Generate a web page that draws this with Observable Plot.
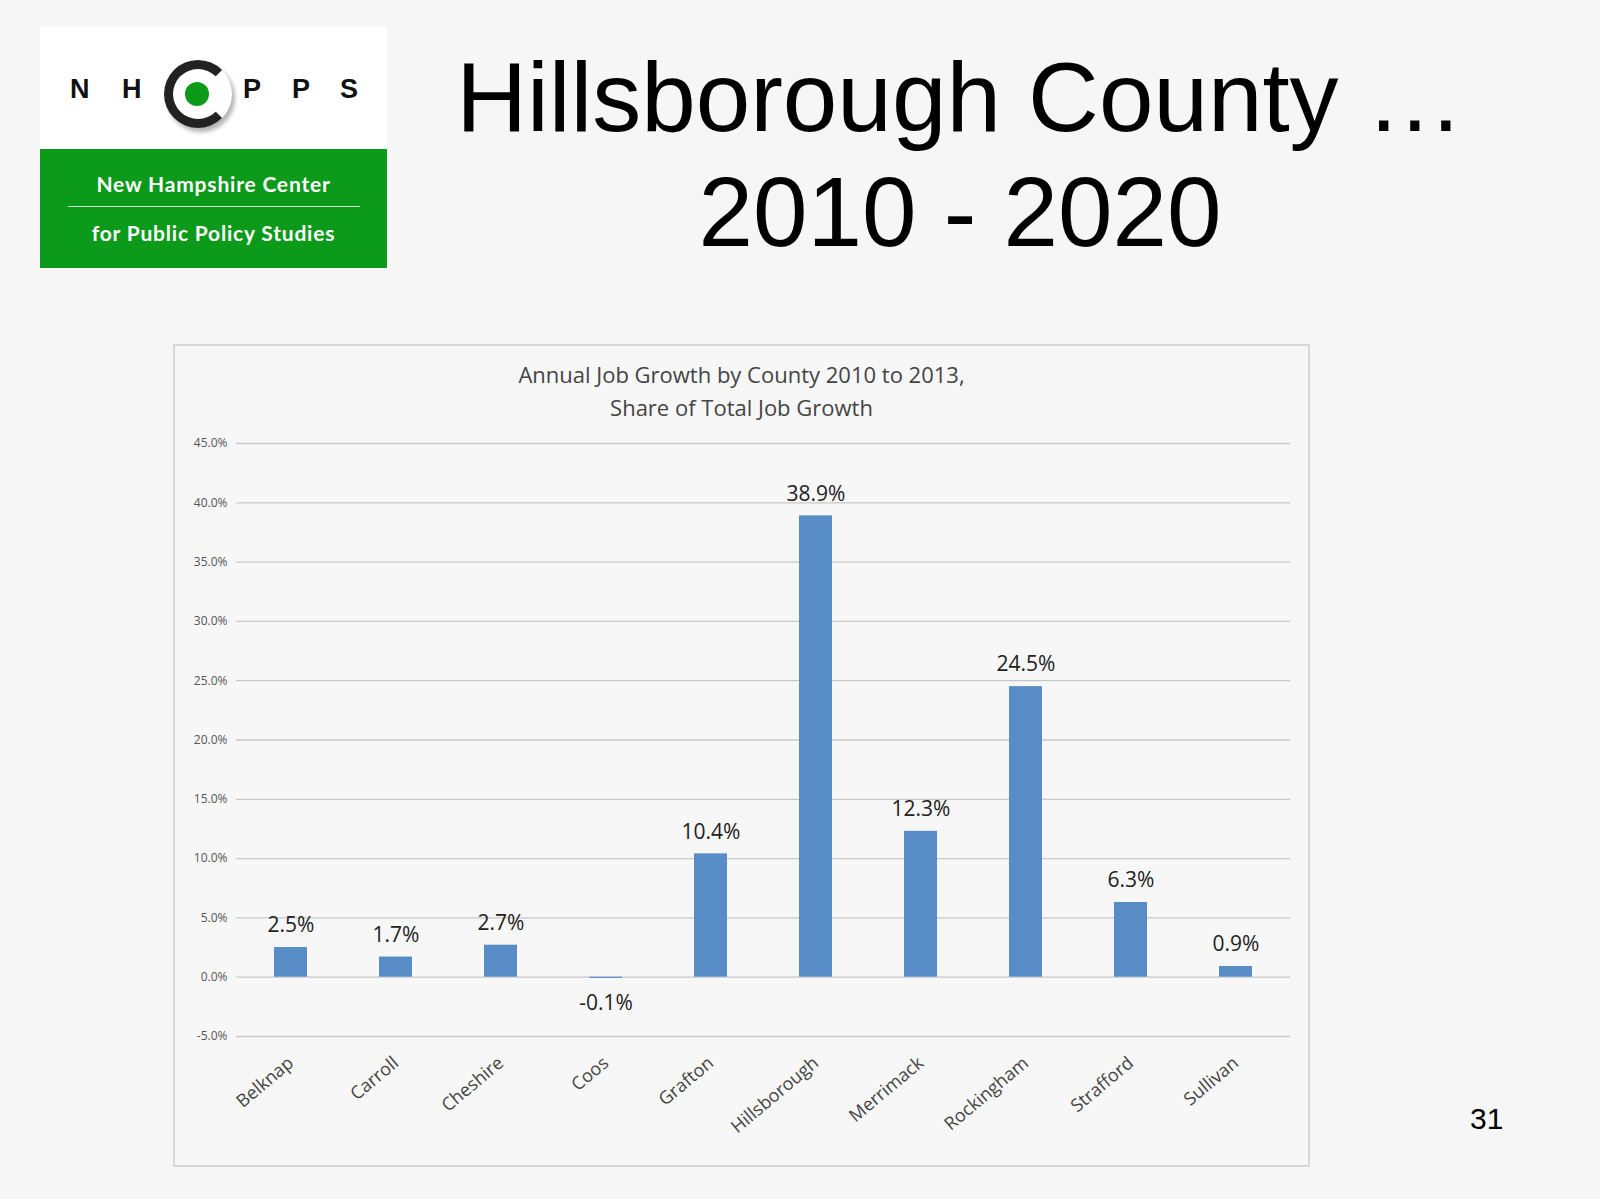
<!DOCTYPE html>
<html><head><meta charset="utf-8">
<script src="https://cdn.jsdelivr.net/npm/d3@7"></script>
<script src="https://cdn.jsdelivr.net/npm/@observablehq/plot@0.6"></script>
<style>
body{margin:0;background:#f6f6f6;width:1600px;height:1199px;position:relative;overflow:hidden;font-family:"Liberation Sans",Arial,sans-serif}
#logo{position:absolute;left:40px;top:26px;width:347px;height:242px;background:#fff}
#letters{position:absolute;left:0;top:48px;width:347px;font-family:"Liberation Sans",Arial;font-weight:bold;font-size:27px;color:#111}
#green{position:absolute;left:0;top:123px;width:347px;height:119px;background:#0b9a1a;color:#fff;font-family:"Lato",sans-serif;font-weight:bold;font-size:21px;text-align:center;letter-spacing:0.8px}
#title{position:absolute;left:440px;top:40px;width:1040px;text-align:center;font-size:98px;line-height:115px;color:#000}
#box{position:absolute;left:173px;top:344px;width:1133px;height:819px;border:2px solid #d8d8d8;background:#f7f7f7}
#ctitle{position:absolute;left:0;top:12px;width:100%;text-align:center;font-family:"Open Sans",sans-serif;font-size:22px;line-height:33px;color:#444}
#chart{position:absolute;left:0;top:0}
#pg{position:absolute;left:1470px;top:1102px;font-size:30px}
</style></head><body>
<div id="logo">
 <div id="letters">
  <span style="position:absolute;left:30px">N</span>
  <span style="position:absolute;left:82px">H</span>
  <div style="position:absolute;left:124px;top:-14px;width:50px;height:50px;border:9px solid #222;border-right-color:transparent;border-radius:50%;box-shadow:3px 4px 4px rgba(0,0,0,.3)"></div>
  <div style="position:absolute;left:145px;top:8px;width:24px;height:24px;border-radius:50%;background:#0b9a1a"></div>
  <span style="position:absolute;left:203px">P</span>
  <span style="position:absolute;left:252px">P</span>
  <span style="position:absolute;left:300px">S</span>
 </div>
 <div id="green">
  <div style="padding-top:22px">New Hampshire Center</div>
  <div style="margin:10px auto 0;width:292px;border-top:1px solid #cfe8cf"></div>
  <div style="padding-top:13px">for Public Policy Studies</div>
 </div>
</div>
<div id="title">Hillsborough County …<br>2010 - 2020</div>
<div id="box"><div id="chart"></div><div id="ctitle">Annual Job Growth by County 2010 to 2013,<br>Share of Total Job Growth</div></div>
<div id="pg">31</div>
<script>
const counties=["Belknap","Carroll","Cheshire","Coos","Grafton","Hillsborough","Merrimack","Rockingham","Strafford","Sullivan"];
const shares=[2.5,1.7,2.7,-0.1,10.4,38.9,12.3,24.5,6.3,0.9];
const yTicks=[-5,0,5,10,15,20,25,30,35,40,45];
const data=counties.map((c,i)=>({c,v:shares[i]}));
const pos=data.filter(d=>d.v>=0), neg=data.filter(d=>d.v<0);
const fmt=d=>d.v.toFixed(1)+"%";
const chart=Plot.plot({
 width:1133,height:819,marginLeft:61,marginRight:18,marginTop:97,marginBottom:129,
 style:{background:"transparent",fontFamily:"Open Sans, sans-serif"},
 x:{domain:counties,paddingInner:0.69,paddingOuter:0.345,label:null},
 y:{domain:[-5,45],ticks:yTicks,label:null},
 marks:[
  Plot.gridY(yTicks,{stroke:"#c8c8c8",strokeOpacity:1,strokeWidth:1.3}),
  Plot.barY(data,{x:"c",y:"v",fill:"#578cc6"}),
  Plot.text(pos,{x:"c",y:"v",text:fmt,dy:-22,textAnchor:"middle",fontSize:21,fill:"#222"}),
  Plot.text(neg,{x:"c",y:0,text:fmt,dy:26,textAnchor:"middle",fontSize:21,fill:"#222"}),
  Plot.axisY({ticks:yTicks,tickSize:0,tickFormat:d=>d.toFixed(1)+"%",fontSize:12,fill:"#555",label:null}),
  Plot.axisX({tickSize:0,tickRotate:-40,tickPadding:24,fontSize:18,fill:"#444",label:null})
 ]
});
document.getElementById("chart").appendChild(chart);
</script>
</body></html>
